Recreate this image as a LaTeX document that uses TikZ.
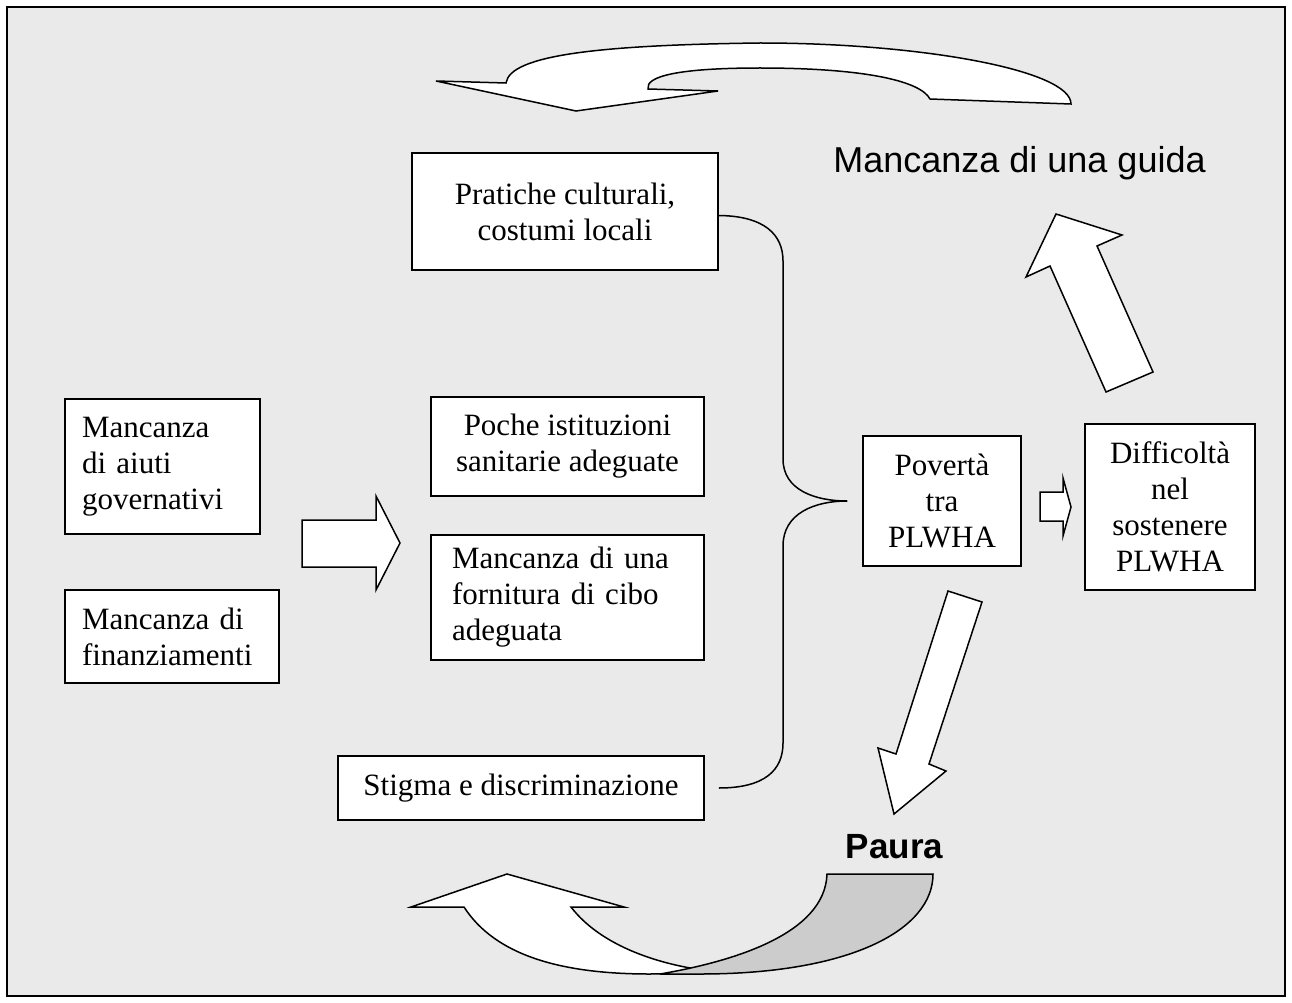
\documentclass[tikz,border=0pt]{standalone}
\usepackage{fontspec}
\setmainfont{Liberation Serif}
\newfontfamily\labelfont{Liberation Sans}
\usepackage{tikz}
\definecolor{panel}{HTML}{EAEAEA}
\definecolor{shade}{HTML}{CCCCCC}

\begin{document}
\begin{tikzpicture}[line join=miter,
  box/.style={draw,fill=white,line width=1.5pt,inner sep=0pt,font=\fontsize{31}{36}\selectfont},
  blockarrow/.style={draw,fill=white,line width=1.5pt},
  caption/.style={inner sep=0pt,anchor=base}]
  \useasboundingbox (0pt,0pt) rectangle (1292pt,-1003pt);
  \fill[white] (0pt,0pt) rectangle (1292pt,-1003pt);
  \draw[fill=panel,line width=1.5pt] (7pt,-7pt) rectangle (1285pt,-996pt);
  \draw (565.0pt, -211.5pt)node[box,minimum width=306pt,minimum height=117pt,align=center](pratiche){Pratiche culturali,\\costumi locali};
  \draw (567.5pt, -446.5pt)node[box,minimum width=273pt,minimum height=99pt,align=center](poche){Poche istituzioni\\sanitarie adeguate};
  \draw (567.5pt, -597.5pt)node[box,minimum height=125pt,inner xsep=21pt,text width=231pt,align=left](cibo){Mancanza di una\\fornitura di cibo\\adeguata};
  \draw (521.0pt, -788.0pt)node[box,minimum width=366pt,minimum height=64pt,align=center](stigma){Stigma e discriminazione};
  \draw (162.5pt, -466.5pt)node[box,minimum height=135pt,inner xsep=17pt,text width=161pt,align=left](aiuti){Mancanza\\di aiuti\\governativi};
  \draw (172.0pt, -636.5pt)node[box,minimum height=93pt,inner xsep=17pt,text width=180pt,align=left](fondi){Mancanza di\\finanziamenti};
  \draw (942.0pt, -501.0pt)node[box,minimum width=158pt,minimum height=130pt,align=center](poverta){Povertà\\tra\\PLWHA};
  \draw (1170.0pt, -507.0pt)node[box,minimum width=170pt,minimum height=166pt,align=center](difficolta){Difficoltà\\nel\\sostenere\\PLWHA};
  \draw (1019.5pt, -173.0pt)node[caption,font=\labelfont\fontsize{36}{42}\selectfont](guida){Mancanza di una guida};
  \draw (894.5pt, -858.0pt)node[caption,font=\labelfont\bfseries\fontsize{35}{42}\selectfont](paura){Paura};
  % brace
  \draw[line width=1.5pt] ([yshift=-4pt]pratiche.east) .. controls (765pt,-216pt) and (783pt,-235pt) .. (783pt,-261pt)
    -- (783pt,-459pt) .. controls (783pt,-490pt) and (815pt,-501pt) .. ([xshift=-15pt]poverta.west)
    .. controls (815pt,-501pt) and (783pt,-513pt) .. (783pt,-546pt)
    -- (783pt,-743pt) .. controls (783pt,-770pt) and (765pt,-788pt) .. ([xshift=14pt]stigma.east);
  % block arrows
  \draw[blockarrow] (302pt,-520pt) -- (376pt,-520pt) -- (376pt,-496pt) -- (400pt,-543pt) -- (376pt,-590pt) -- (376pt,-567pt) -- (302pt,-567pt) -- cycle;
  \draw[blockarrow] (1040pt,-492pt) -- (1063pt,-492pt) -- (1063pt,-478pt) -- (1071pt,-507pt) -- (1063pt,-536pt) -- (1063pt,-521pt) -- (1040pt,-521pt) -- cycle;
  \draw[blockarrow] (1106pt,-392pt) -- (1050pt,-266pt) -- (1026pt,-277pt) -- (1056pt,-214pt) -- (1122pt,-235pt) -- (1097pt,-246pt) -- (1153pt,-372pt) -- cycle;
  \draw[blockarrow] (948pt,-591pt) -- (982pt,-602pt) -- (929pt,-764pt) -- (946pt,-771pt) -- (894pt,-814pt) -- (878pt,-748pt) -- (896pt,-754pt) -- cycle;
  % top curved arrow
  \draw[blockarrow] (436pt,-81pt) -- (506pt,-83pt) .. controls (510pt,-55pt) and (600pt,-45pt) .. (760pt,-43pt)
    .. controls (920pt,-43pt) and (1071pt,-70pt) .. (1071pt,-104pt) -- (930pt,-99pt)
    .. controls (920pt,-80pt) and (860pt,-68pt) .. (760pt,-68pt)
    .. controls (680pt,-68pt) and (645pt,-76pt) .. (648pt,-89pt) -- (718pt,-91pt) -- (576pt,-111pt) -- cycle;
  % bottom curved arrow
  \draw[blockarrow] (411pt,-907pt) -- (507pt,-874pt) -- (624pt,-907pt) -- (571pt,-907pt)
    .. controls (600pt,-945pt) and (660pt,-968pt) .. (730pt,-973pt) -- (650pt,-974pt)
    .. controls (560pt,-974pt) and (495pt,-955pt) .. (464pt,-907pt) -- cycle;
  \draw[blockarrow,fill=shade] (827pt,-874pt) -- (933pt,-874pt) .. controls (933pt,-930pt) and (850pt,-974pt) .. (700pt,-974pt)
    -- (660pt,-974pt) .. controls (730pt,-962pt) and (825pt,-935pt) .. (827pt,-874pt) -- cycle;
\end{tikzpicture}
\end{document}
